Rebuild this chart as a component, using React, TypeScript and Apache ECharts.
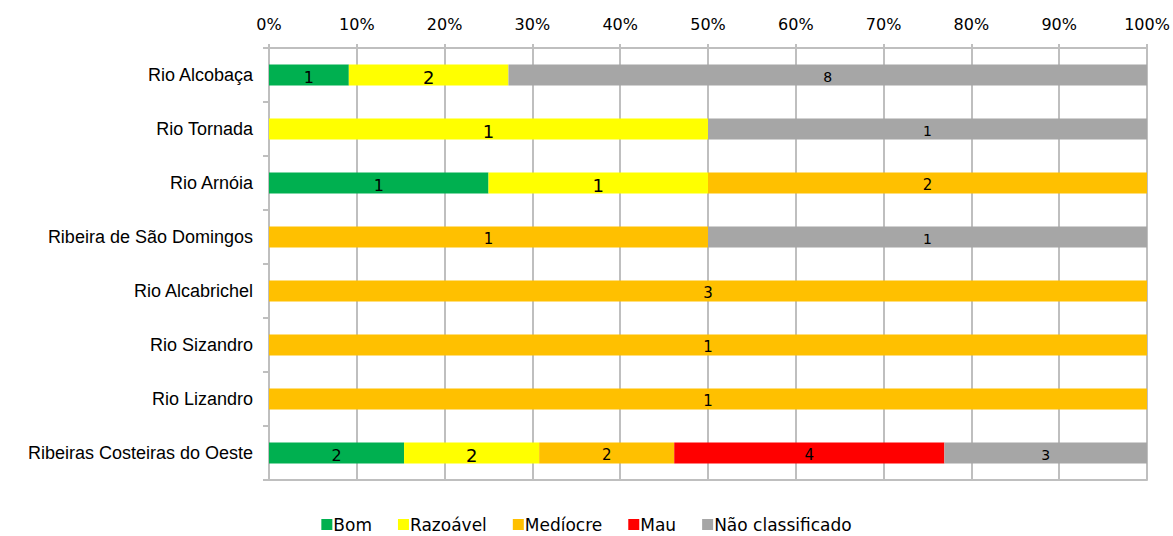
import React, { useEffect, useRef } from "react";
import * as echarts from "echarts";

const categories = [
  "Rio Alcobaça",
  "Rio Tornada",
  "Rio Arnóia",
  "Ribeira de São Domingos",
  "Rio Alcabrichel",
  "Rio Sizandro",
  "Rio Lizandro",
  "Ribeiras Costeiras do Oeste",
];
const seriesNames = ["Bom", "Razoável", "Medíocre", "Mau", "Não classificado"];
const bom = [1, 0, 1, 0, 0, 0, 0, 2];
const razoavel = [2, 1, 1, 0, 0, 0, 0, 2];
const mediocre = [0, 0, 2, 1, 3, 1, 1, 2];
const mau = [0, 0, 0, 0, 0, 0, 0, 4];
const naoClassificado = [8, 1, 0, 1, 0, 0, 0, 3];
const xTicks = [0, 10, 20, 30, 40, 50, 60, 70, 80, 90, 100];

const colors = ["#00b050", "#ffff00", "#ffc000", "#ff0000", "#a6a6a6"];
const labelSizes = [16, 18, 15, 15, 14];
const FONT = "DejaVu Sans, Verdana, sans-serif";

export default function App() {
  const ref = useRef<HTMLDivElement>(null);
  useEffect(() => {
    document.body.style.margin = "0";
    if (!ref.current) return;
    const chart = echarts.init(ref.current, undefined, { renderer: "svg" });
    const counts = [bom, razoavel, mediocre, mau, naoClassificado];
    const totals = categories.map((_, i) => counts.reduce((s, a) => s + a[i], 0));
    const series = counts.map((arr, si) => ({
      name: seriesNames[si],
      type: "bar",
      stack: "total",
      barWidth: "39%",
      xAxisIndex: 0,
      itemStyle: { color: colors[si] },
      data: arr.map((c, i) => ({ value: (c / totals[i]) * 100, count: c })),
      label: {
        show: true,
        position: "inside",
        offset: [0, 2],
        color: "#000",
        fontFamily: FONT,
        fontSize: labelSizes[si],
        formatter: (p: any) => (p.data.count > 0 ? String(p.data.count) : ""),
      },
    }));
    const lineStyle = { color: "#bfbfbf", width: 2 };
    chart.setOption({
      animation: false,
      grid: { left: 269, right: 26, top: 48, bottom: 56, containLabel: false },
      legend: {
        top: 516,
        padding: 0,
        left: "center",
        itemWidth: 11,
        itemHeight: 11,
        itemGap: 26,
        icon: "rect",
        textStyle: { fontFamily: FONT, fontSize: 17, color: "#000", padding: [0, 0, 0, -4] },
        data: seriesNames,
      },
      xAxis: [
        {
          type: "value",
          position: "top",
          min: xTicks[0],
          max: xTicks[xTicks.length - 1],
          interval: 10,
          axisLine: { show: true, lineStyle },
          axisTick: { show: true, length: 4, lineStyle },
          splitLine: { show: true, lineStyle },
          axisLabel: {
            formatter: "{value}%",
            margin: 16,
            color: "#000",
            fontFamily: FONT,
            fontSize: 16,
          },
        },
        {
          type: "value",
          position: "bottom",
          min: 0,
          max: 100,
          interval: 10,
          axisLine: { show: true, lineStyle },
          axisTick: { show: false },
          splitLine: { show: false },
          axisLabel: { show: false },
        },
      ],
      yAxis: {
        type: "category",
        inverse: true,
        data: categories,
        axisLine: { show: true, lineStyle },
        axisTick: { show: true, length: 6, alignWithLabel: false, lineStyle },
        axisLabel: {
          margin: 16,
          color: "#000",
          fontFamily: "Liberation Sans, Arial, sans-serif",
          fontSize: 18,
        },
      },
      series,
    });
    return () => chart.dispose();
  }, []);
  return <div ref={ref} style={{ width: 1173, height: 536 }} />;
}
